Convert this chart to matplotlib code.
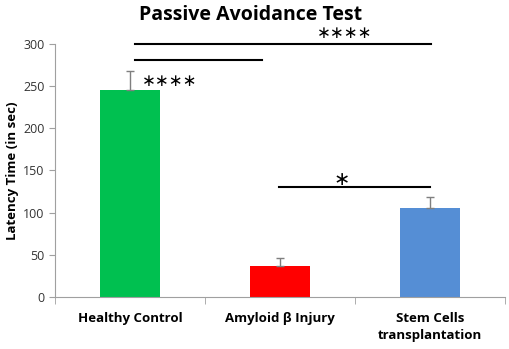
import matplotlib
matplotlib.use("Agg")
import matplotlib.pyplot as plt
import numpy as np

plt.rcParams['font.family'] = ['Open Sans', 'DejaVu Sans']

groups = ["Healthy Control", "Amyloid \u03b2 Injury", "Stem Cells\ntransplantation"]
latency = [245, 37, 105]
sem = [23, 9, 14]
colors = ["#00C050", "#FF0000", "#558ED5"]

# significance: compared groups, bracket level, stars
sig_pairs = [(0, 2), (0, 1), (1, 2)]
sig_levels = [300, 281, 130]
sig_labels = ["****", "****", "*"]

fig = plt.figure(figsize=(5.1, 3.49), dpi=100)
ax = fig.add_axes([0.108, 0.149, 0.882, 0.725])

x = np.arange(len(groups))
ax.bar(x, latency, width=0.4, color=colors, zorder=2)
ax.errorbar(x, latency, yerr=[np.zeros(len(sem)), sem], fmt="none",
            ecolor="#7f7f7f", elinewidth=1, capsize=3, capthick=1, zorder=3)

ax.set_xlim(-0.5, 2.5)
ax.set_ylim(0, 300)
ax.set_yticks(np.arange(0, 301, 50))
ax.set_xticks(x)
ax.set_xticklabels(groups, fontsize=9.5, fontweight="bold", linespacing=1.35)
ax.set_xticks(np.arange(-0.5, 2.6, 1), minor=True)
ax.tick_params(axis="x", which="major", length=0, pad=11)
ax.tick_params(axis="x", which="minor", length=5, color="#a0a0a0", direction="out")
ax.tick_params(axis="y", length=4, color="#a0a0a0", labelsize=9, labelcolor="#333333")

for side in ["top", "right"]:
    ax.spines[side].set_visible(False)
for side in ["left", "bottom"]:
    ax.spines[side].set_color("#a0a0a0")

ax.set_ylabel("Latency Time (in sec)", fontsize=9.5, fontweight="bold", labelpad=3)
fig.suptitle("Passive Avoidance Test", fontsize=14, fontweight="bold", x=0.492, y=0.985)

# line ends and star positions (data x, star y) for each bracket
line_ends = [(0.033, 2.007), (0.033, 0.88), (0.993, 2.0)]
star_pos = [(1.433, 313), (0.267, 256), (1.413, 139)]
star_size = [12, 12, 14]

for (x0, x1), level, label, (sx, sy), fs in zip(line_ends, sig_levels, sig_labels,
                                                star_pos, star_size):
    ax.plot([x0, x1], [level, level], color="black", lw=1.5, clip_on=False, zorder=4)
    stars = "\u2217" * len(label)
    ax.text(sx, sy, stars, ha="center", va="center", fontsize=fs,
            family="DejaVu Sans", clip_on=False)

fig.savefig("out.png", dpi=100)
